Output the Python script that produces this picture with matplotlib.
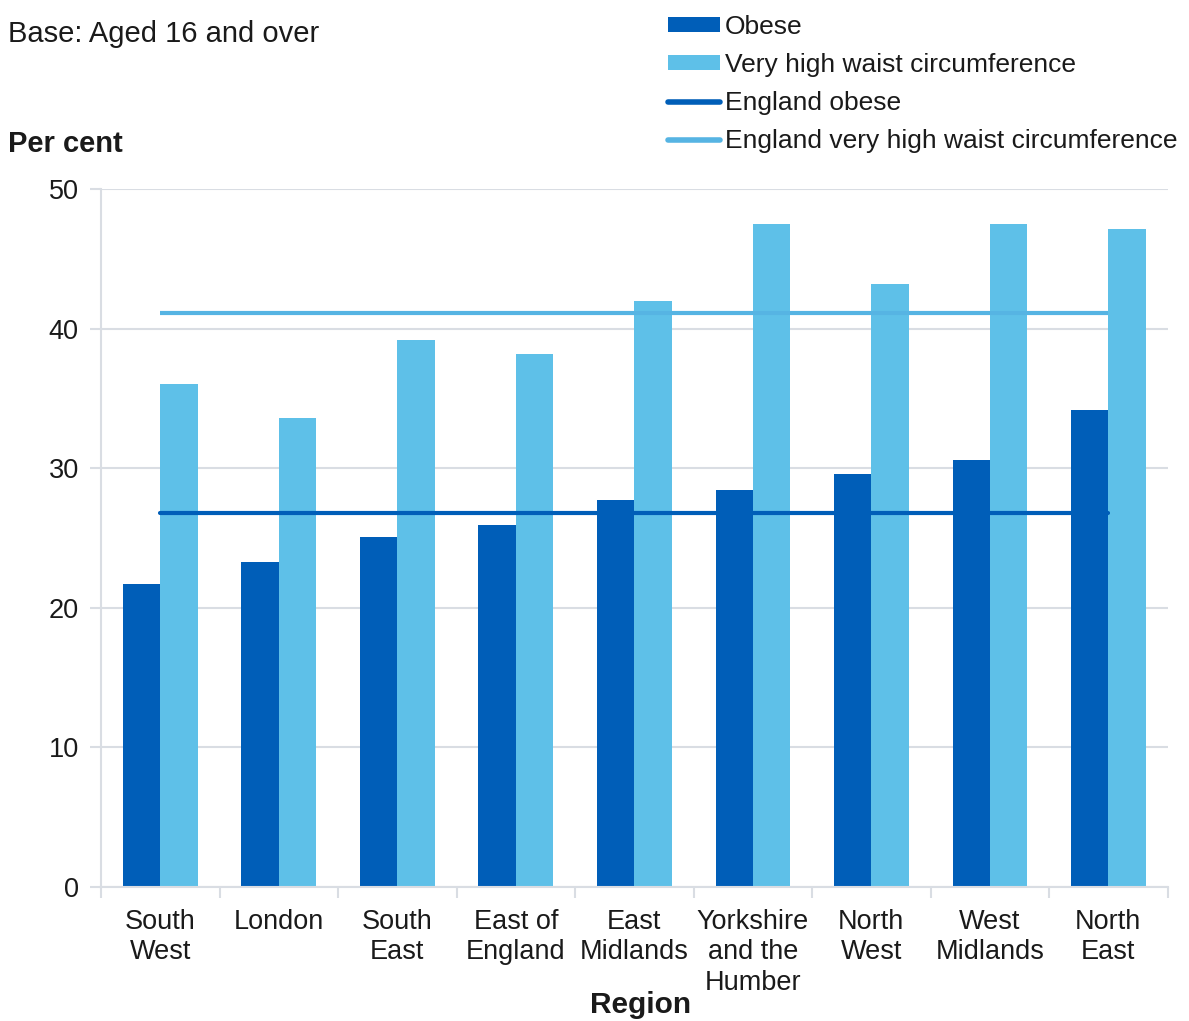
import matplotlib
matplotlib.use("Agg")
import matplotlib.pyplot as plt
import numpy as np
from matplotlib.patches import Patch
from matplotlib.lines import Line2D

plt.rcParams['font.family'] = ['Liberation Sans', 'DejaVu Sans']

regions = ["South\nWest", "London", "South\nEast", "East of\nEngland", "East\nMidlands",
           "Yorkshire\nand the\nHumber", "North\nWest", "West\nMidlands", "North\nEast"]
obese = [21.7, 23.3, 25.1, 25.9, 27.7, 28.4, 29.6, 30.6, 34.2]
waist = [36.0, 33.6, 39.2, 38.2, 42.0, 47.5, 43.2, 47.5, 47.1]
england_obese = 26.8
england_waist = 41.1

c_obese = "#005EB8"
c_waist = "#5EC0E8"
c_line_waist = "#56B4E3"
grid_c = "#D9DDE3"
txt_c = "#1a1a1a"

fig = plt.figure(figsize=(11.89, 10.21), dpi=100)
ax = fig.add_axes([0.085, 0.1312, 0.897, 0.6838])

x = np.arange(len(regions))
w = 0.315
ax.bar(x - w / 2, obese, width=w, color=c_obese, zorder=2)
ax.bar(x + w / 2, waist, width=w, color=c_waist, zorder=2)
ax.plot(x, [england_obese] * len(x), color=c_obese, lw=3, solid_capstyle='round', zorder=3)
ax.plot(x, [england_waist] * len(x), color=c_line_waist, lw=3, solid_capstyle='butt', zorder=3)

ax.set_xlim(-0.5, len(regions) - 0.5)
ax.set_ylim(0, 50)
ax.set_yticks(range(0, 51, 10))
ax.yaxis.grid(True, color=grid_c, lw=1.5, zorder=0)
ax.set_axisbelow(True)

ax.set_xticks(x)
ax.set_xticklabels(regions, fontsize=19.5, color=txt_c, linespacing=1.24)
ax.tick_params(axis='x', length=0, pad=15.5)
ax.set_xticks(np.arange(-0.5, len(regions)), minor=True)
ax.tick_params(axis='x', which='minor', length=8, width=1.5, color=grid_c)
ax.tick_params(axis='y', length=8, width=1.5, color=grid_c, labelsize=19.5, labelcolor=txt_c, pad=8)

for s in ['top', 'right']:
    ax.spines[s].set_visible(False)
for s in ['left', 'bottom']:
    ax.spines[s].set_color(grid_c)
    ax.spines[s].set_linewidth(1.5)

fig.text(0.007, 0.967, "Base: Aged 16 and over", fontsize=21, color=txt_c, va='center')
fig.text(0.007, 0.859, "Per cent", fontsize=21, fontweight='bold', color=txt_c, va='center')
fig.text(0.539, 0.016, "Region", fontsize=21.5, fontweight='bold', color=txt_c, ha='center', va='center')

handles = [
    Patch(facecolor=c_obese, edgecolor='none'),
    Patch(facecolor=c_waist, edgecolor='none'),
    Line2D([0], [0], color=c_obese, lw=4, solid_capstyle='round'),
    Line2D([0], [0], color=c_line_waist, lw=4, solid_capstyle='round'),
]
labels = ["Obese", "Very high waist circumference", "England obese",
          "England very high waist circumference"]
leg = fig.legend(handles, labels, loc='upper left', bbox_to_anchor=(0.553, 0.9957),
                 frameon=False, fontsize=19, handlelength=1.97, handleheight=0.45,
                 handletextpad=0.19, labelspacing=0.53, borderaxespad=0)
for t in leg.get_texts():
    t.set_color(txt_c)

fig.savefig("out.png", dpi=100, facecolor="white")
